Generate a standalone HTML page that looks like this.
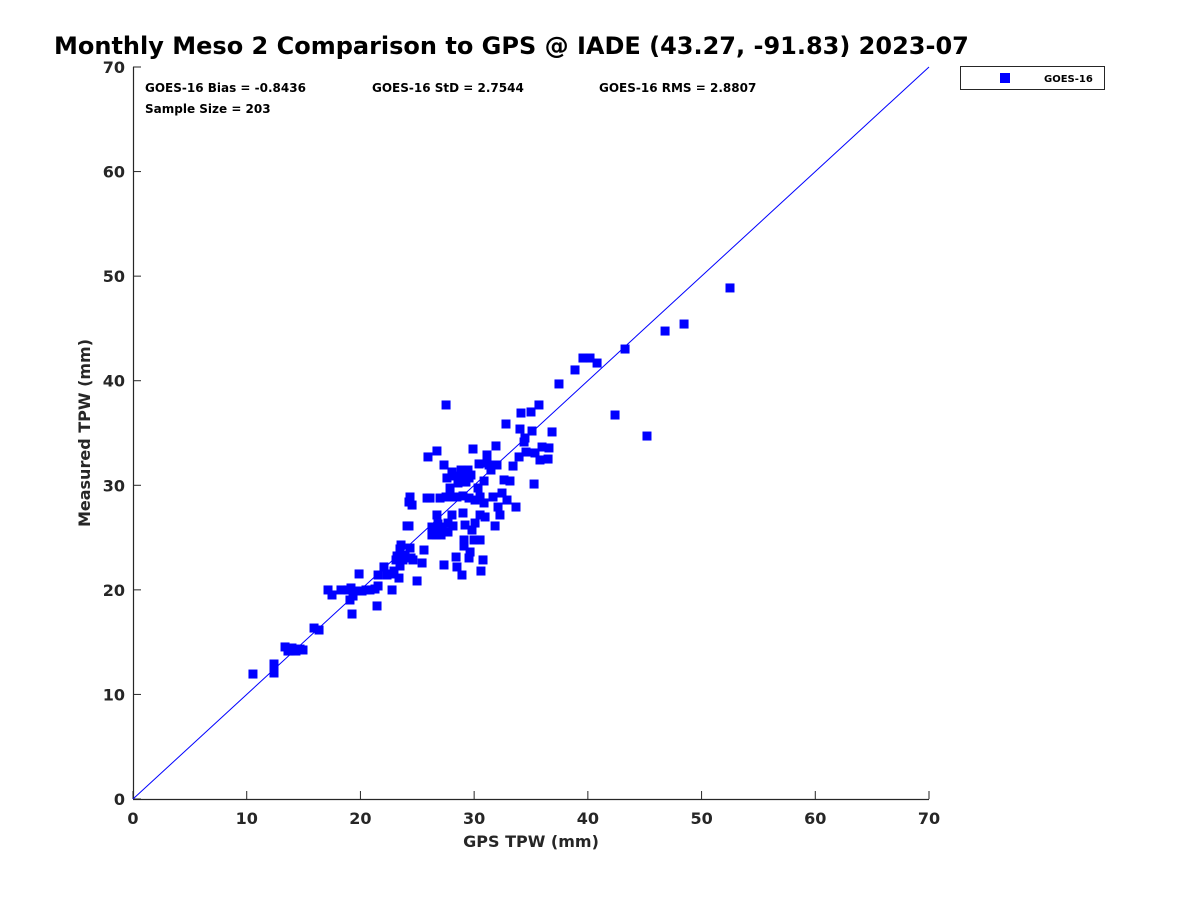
<!DOCTYPE html>
<html><head><meta charset="utf-8"><style>
body{margin:0;background:#fff;}
svg text{font-family:"DejaVu Sans","Liberation Sans",sans-serif;font-weight:bold;}
</style></head><body>
<svg id="chart" width="1200" height="900" xmlns="http://www.w3.org/2000/svg">
<rect width="1200" height="900" fill="#fff"/>
<text x="54" y="54" font-size="24" fill="#000">Monthly Meso 2 Comparison to GPS @ IADE (43.27, -91.83) 2023-07</text>
<g id="axes"></g>
<g id="marks"></g>
<text x="145" y="92" font-size="12">GOES-16 Bias = -0.8436</text>
<text x="372" y="92" font-size="12">GOES-16 StD = 2.7544</text>
<text x="599" y="92" font-size="12">GOES-16 RMS = 2.8807</text>
<text x="145" y="113" font-size="12">Sample Size = 203</text>
<text x="531" y="847" font-size="16" text-anchor="middle" fill="#262626">GPS TPW (mm)</text>
<text transform="translate(90,433) rotate(-90)" font-size="16" text-anchor="middle" fill="#262626">Measured TPW (mm)</text>
<g>
<rect x="960.5" y="66.5" width="144" height="23" fill="#fff" stroke="#262626" stroke-width="1"/>
<rect x="1000" y="73" width="10" height="10" fill="#0000ff"/>
<text x="1044" y="82" font-size="10" fill="#000">GOES-16</text>
</g>
</svg>
<script>
const xTicks=[0,10,20,30,40,50,60,70];
const yTicks=[0,10,20,30,40,50,60,70];
const gpsX=[10.55,12.40,12.40,13.37,13.63,13.81,13.98,14.33,14.69,14.95,15.92,16.36,17.15,17.50,18.29,18.91,19.08,19.26,19.35,19.17,19.61,19.88,20.14,20.49,20.84,21.28,21.46,21.55,21.55,22.07,22.34,22.60,22.78,22.95,23.13,23.22,23.39,23.48,23.57,23.74,23.92,23.48,24.10,24.27,24.27,24.36,24.54,24.36,24.45,24.62,24.98,25.42,25.59,25.86,25.94,26.12,26.29,26.29,26.47,26.65,26.73,26.73,26.82,27.00,27.00,27.09,27.17,27.35,27.35,27.53,27.53,27.61,27.70,27.70,27.88,28.05,28.05,28.14,28.14,28.23,28.41,28.49,28.49,28.58,28.67,28.85,28.93,28.93,29.02,29.02,29.11,29.11,29.20,29.28,29.46,29.55,29.55,29.55,29.64,29.72,29.81,29.90,29.99,30.08,30.08,30.34,30.43,30.52,30.52,30.52,30.60,30.78,30.87,30.87,30.96,31.13,31.13,31.31,31.48,31.66,31.84,31.92,32.01,32.10,32.27,32.45,32.63,32.80,32.89,33.15,33.42,33.68,33.95,34.03,34.12,34.39,34.47,34.56,35.00,35.09,35.35,35.27,35.70,35.79,35.97,36.50,36.58,36.85,37.46,38.87,39.57,40.19,40.81,42.39,43.27,45.20,46.79,48.46,52.50];
const measY=[11.95,12.91,12.05,14.54,14.15,14.15,14.44,14.15,14.34,14.25,16.35,16.16,19.99,19.51,19.99,19.99,19.03,17.69,19.41,20.18,19.89,21.52,19.89,19.99,19.99,20.08,18.46,20.37,21.42,22.19,21.42,21.52,19.99,21.80,22.86,23.24,21.13,23.91,24.29,22.86,23.33,22.28,26.11,26.11,28.40,28.88,28.11,24.00,23.05,22.86,20.85,22.57,23.81,28.78,32.71,28.78,26.01,25.25,26.01,25.25,33.28,27.16,26.30,28.78,26.01,25.25,25.72,31.94,22.38,37.68,28.88,30.70,26.39,25.53,29.74,31.27,27.16,26.11,28.88,30.89,23.14,28.88,22.19,30.22,30.51,31.46,21.42,31.08,28.98,27.35,24.19,24.77,26.20,30.31,31.46,30.70,28.78,23.05,23.62,30.98,25.72,33.47,24.77,26.39,28.59,29.74,32.04,28.88,27.16,24.77,21.80,22.86,30.41,28.31,26.97,32.90,32.13,31.94,31.46,28.88,26.11,33.76,31.94,27.92,27.16,29.26,30.51,35.86,28.59,30.41,31.84,27.92,32.71,35.38,36.91,34.14,34.52,33.18,37.01,35.19,33.09,30.12,37.68,32.42,33.66,32.51,33.57,35.10,39.69,41.03,42.17,42.17,41.69,36.72,43.03,34.71,44.75,45.42,48.87];
const X0=133,X1=929,Y0=799,Y1=67,XMAX=70,YMAX=70;
function sx(v){return X0+(X1-X0)*v/XMAX;}
function sy(v){return Y0-(Y0-Y1)*v/YMAX;}
const NS="http://www.w3.org/2000/svg";
function mk(t,a,p){const e=document.createElementNS(NS,t);for(const k in a)e.setAttribute(k,a[k]);p.appendChild(e);return e;}
const axes=document.getElementById('axes');
const marks=document.getElementById('marks');
const xl=mk('line',{x1:X0,y1:Y0+0.5,x2:X1,y2:Y0+0.5,stroke:'#262626','stroke-width':1.2},axes);


const yl=mk('line',{x1:X0+0.5,y1:Y0,x2:X0+0.5,y2:Y1,stroke:'#262626','stroke-width':1.2},axes);


xTicks.forEach(v=>{
  mk('line',{x1:sx(v),y1:Y0,x2:sx(v),y2:Y0-8,stroke:'#262626'},axes);
  const t=mk('text',{x:sx(v),y:Y0+25,'font-size':16,'text-anchor':'middle',fill:'#262626'},axes);
  t.textContent=v;
  
  
});
yTicks.forEach(v=>{
  mk('line',{x1:X0,y1:sy(v),x2:X0+8,y2:sy(v),stroke:'#262626'},axes);
  const t=mk('text',{x:X0-8,y:sy(v)+6,'font-size':16,'text-anchor':'end',fill:'#262626'},axes);
  t.textContent=v;
  
  
});
const ref=mk('line',{x1:sx(0),y1:sy(0),x2:sx(70),y2:sy(70),stroke:'#0000ff','stroke-width':1},marks);


gpsX.forEach((v,i)=>{
  const r=mk('rect',{x:sx(v)-4.5,y:sy(measY[i])-4.5,width:9,height:9,fill:'#0000ff'},marks);
  
  
});
</script>
</body></html>
